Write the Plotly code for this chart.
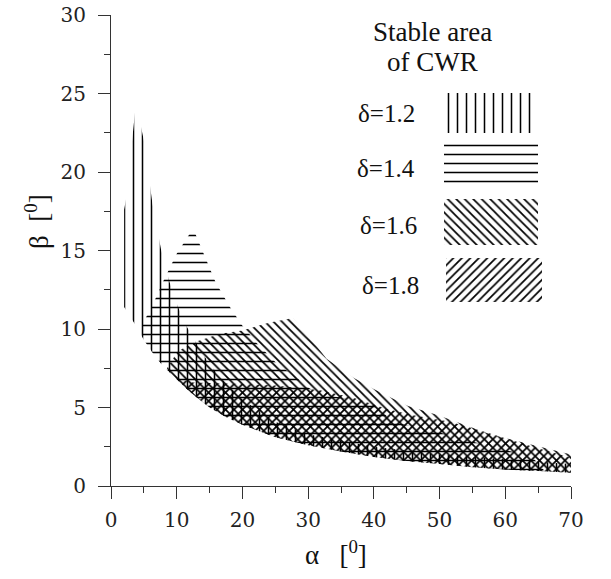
import plotly.graph_objects as go

# ---------------- data ----------------
alpha_tickvals = [0, 10, 20, 30, 40, 50, 60, 70]
beta_tickvals = [0, 5, 10, 15, 20, 25, 30]

delta_labels = ["δ=1.2", "δ=1.4", "δ=1.6", "δ=1.8"]

# delta = 1.2 (vertical hatch)
d12_lo_alpha = [2.0, 2.3, 3.8, 5.0, 6.3, 7.6, 9.0, 10.5, 12.0, 13.5, 15.0, 17.5, 20.0, 22.5, 25.0, 27.5, 30.0, 35.0, 40.0, 45.0, 50.0, 55.0, 60.0, 65.0, 70.0]
d12_lo_beta = [11.4, 11.2, 10.2, 9.3, 8.5, 7.8, 7.2, 6.6, 6.0, 5.5, 5.0, 4.4, 3.9, 3.5, 3.1, 2.85, 2.6, 2.2, 1.85, 1.6, 1.4, 1.2, 1.05, 0.95, 0.85]
d12_up_alpha = [2.0, 2.3, 3.8, 5.0, 6.3, 7.6, 8.9, 10.2, 11.6, 13.0, 14.3, 15.7, 17.5, 20.0, 25.0, 30.0, 35.0, 40.0, 50.0, 60.0, 70.0]
d12_up_beta = [17.6, 18.3, 24.4, 22.0, 18.0, 15.1, 13.0, 11.4, 10.1, 9.1, 8.2, 7.4, 6.5, 5.5, 4.1, 3.3, 2.9, 2.5, 2.0, 1.7, 1.4]

# delta = 1.4 (horizontal hatch)
d14_lo_alpha = [4.6, 5.0, 6.3, 7.6, 9.0, 10.5, 12.0, 13.5, 15.0, 17.5, 20.0, 22.5, 25.0, 27.5, 30.0, 35.0, 40.0, 45.0, 50.0, 55.0, 60.0, 66.0]
d14_lo_beta = [9.9, 9.3, 8.5, 7.8, 7.2, 6.6, 6.0, 5.5, 5.0, 4.4, 3.9, 3.5, 3.1, 2.85, 2.6, 2.2, 1.85, 1.6, 1.4, 1.2, 1.05, 0.95]
d14_up_alpha = [4.6, 4.8, 5.4, 6.2, 7.9, 10.0, 12.5, 15.9, 18.1, 20.0, 22.2, 25.0, 28.5, 30.3, 34.0, 39.4, 41.4, 42.7, 50.0, 58.7, 64.0, 66.0]
d14_up_beta = [9.9, 10.2, 10.8, 11.4, 13.0, 14.8, 16.4, 13.0, 11.4, 10.2, 9.1, 7.9, 6.8, 6.2, 5.7, 5.3, 4.7, 4.1, 3.4, 2.4, 1.9, 0.95]

# delta = 1.6 (back-slash hatch)
d16_lo_alpha = [8.5, 9.0, 10.5, 12.0, 13.5, 15.0, 17.5, 20.0, 22.5, 25.0, 27.5, 30.0, 35.0, 40.0, 45.0, 50.0, 55.0, 60.0, 65.0, 70.0]
d16_lo_beta = [7.5, 7.2, 6.6, 6.0, 5.5, 5.0, 4.4, 3.9, 3.5, 3.1, 2.85, 2.6, 2.2, 1.85, 1.6, 1.4, 1.2, 1.05, 0.95, 0.85]
d16_up_alpha = [8.5, 10.2, 13.0, 16.6, 20.0, 24.0, 27.7, 30.0, 32.8, 36.9, 39.9, 42.7, 45.2, 49.8, 57.7, 63.3, 70.0]
d16_up_beta = [7.5, 8.6, 9.2, 9.7, 9.9, 10.4, 10.7, 9.6, 8.1, 6.9, 6.2, 5.6, 5.1, 4.5, 3.3, 2.7, 2.0]

# delta = 1.8 (slash hatch)
d18_lo_alpha = [9.8, 10.5, 12.0, 13.5, 15.0, 17.5, 20.0, 22.5, 25.0, 27.5, 30.0, 35.0, 40.0, 45.0, 50.0, 55.0, 60.0, 65.0, 70.0]
d18_lo_beta = [6.9, 6.6, 6.0, 5.5, 5.0, 4.4, 3.9, 3.5, 3.1, 2.85, 2.6, 2.2, 1.85, 1.6, 1.4, 1.2, 1.05, 0.95, 0.85]
d18_up_alpha = [9.8, 12.5, 20.0, 25.0, 31.8, 37.0, 42.0, 46.0, 51.6, 57.2, 64.2, 70.0]
d18_up_beta = [6.9, 6.6, 6.5, 6.4, 6.1, 5.6, 4.9, 4.5, 4.1, 3.4, 2.5, 1.8]

regions = [
    (d12_lo_alpha, d12_lo_beta, d12_up_alpha, d12_up_beta),
    (d14_lo_alpha, d14_lo_beta, d14_up_alpha, d14_up_beta),
    (d16_lo_alpha, d16_lo_beta, d16_up_alpha, d16_up_beta),
    (d18_lo_alpha, d18_lo_beta, d18_up_alpha, d18_up_beta),
]

# ---------------- styling ----------------
W, H = 611, 579
ML, MR, MT, MB = 111, 40, 15, 93
PX0, PX1 = ML, W - MR          # pixel extents of the plot area
PY0, PY1 = MT, H - MB

patterns = [
    dict(shape="|", size=9, solidity=0.17),
    dict(shape="-", size=9, solidity=0.17),
    dict(shape="\\", size=6, solidity=0.29),
    dict(shape="/", size=6, solidity=0.29),
]
SERIF = "Liberation Serif"
TICKFONT = dict(family="DejaVu Serif", size=20, color="#222")

fig = go.Figure()

for (lo_a, lo_b, up_a, up_b), pat in zip(regions, patterns):
    xs = list(lo_a) + list(up_a)[::-1]
    ys = list(lo_b) + list(up_b)[::-1]
    fig.add_trace(go.Scatter(
        x=xs, y=ys, fill="toself", mode="none",
        fillcolor="rgba(0,0,0,0)",
        fillpattern=dict(shape=pat["shape"], size=pat["size"], solidity=pat["solidity"],
                         fgcolor="black", bgcolor="rgba(0,0,0,0)", fillmode="replace"),
        showlegend=False, hoverinfo="skip",
    ))

# legend swatches drawn on a pixel-space overlay axis pair
legend_boxes = [  # (x0, x1, y0, y1)
    (444, 536, 93, 133),
    (444, 538, 143, 185),
    (444, 538, 199, 245),
    (446, 542, 258, 302),
]
legend_text_pos = [(386, 113), (386, 168), (388, 225), (390, 285)]
for (x0, x1, y0, y1), pat in zip(legend_boxes, patterns):
    fig.add_trace(go.Scatter(
        x=[x0, x1, x1, x0, x0], y=[y0, y0, y1, y1, y0],
        xaxis="x2", yaxis="y2", fill="toself", mode="none",
        fillcolor="rgba(0,0,0,0)",
        fillpattern=dict(shape=pat["shape"], size=pat["size"], solidity=pat["solidity"],
                         fgcolor="black", bgcolor="rgba(0,0,0,0)", fillmode="replace"),
        showlegend=False, hoverinfo="skip",
    ))

annotations = []
for label, (tx, ty) in zip(delta_labels, legend_text_pos):
    annotations.append(dict(x=tx, y=ty, xref="x2", yref="y2", text=label, showarrow=False,
                            font=dict(family=SERIF, size=25, color="#111"),
                            xanchor="center", yanchor="middle"))
annotations.append(dict(x=432, y=32, xref="x2", yref="y2", text="Stable area", showarrow=False,
                        font=dict(family=SERIF, size=27, color="#111"), xanchor="center", yanchor="middle"))
annotations.append(dict(x=432, y=62, xref="x2", yref="y2", text="of CWR", showarrow=False,
                        font=dict(family=SERIF, size=27, color="#111"), xanchor="center", yanchor="middle"))
# axis titles (pixel positions converted to paper)
pw, ph = PX1 - PX0, PY1 - PY0
annotations.append(dict(x=(336 - PX0) / pw, y=(PY1 - 553) / ph,
                        xref="paper", yref="paper", text="α\u00a0\u00a0\u00a0[<sup>0</sup>]",
                        showarrow=False, font=dict(family=SERIF, size=27, color="#111"),
                        xanchor="center", yanchor="middle"))
annotations.append(dict(x=(37 - PX0) / pw, y=(PY1 - 222) / ph,
                        xref="paper", yref="paper", text="β\u00a0\u00a0[<sup>0</sup>]",
                        showarrow=False, textangle=-90, font=dict(family=SERIF, size=27, color="#111"),
                        xanchor="center", yanchor="middle"))

axis_common = dict(showgrid=False, zeroline=False, showline=True, linecolor="#333", linewidth=1,
                   ticks="outside", tickcolor="#333", tickwidth=1, ticklen=12,
                   tickfont=TICKFONT, mirror=False, ticklabeloverflow="allow", automargin=False)

fig.update_layout(
    width=W, height=H,
    margin=dict(l=ML, r=MR, t=MT, b=MB),
    paper_bgcolor="white", plot_bgcolor="white",
    xaxis=dict(range=[0, 70], tickvals=alpha_tickvals, ticklabelstandoff=4,
               minor=dict(dtick=5, ticklen=6, ticks="outside", tickcolor="#333", tickwidth=1),
               **axis_common),
    yaxis=dict(range=[0, 30], tickvals=beta_tickvals, ticklabelstandoff=8,
               minor=dict(dtick=2.5, ticklen=6, ticks="outside", tickcolor="#333", tickwidth=1),
               **axis_common),
    xaxis2=dict(overlaying="x", range=[PX0, PX1], visible=False, anchor="y2"),
    yaxis2=dict(overlaying="y", range=[PY1, PY0], visible=False, anchor="x2"),
    annotations=annotations,
    showlegend=False,
)

# remove the browser's default 8px body margin so the figure fills the window
fig.write_html("out.html", config={"displayModeBar": False, "staticPlot": True},
               post_script="document.body.style.margin='0px';")
